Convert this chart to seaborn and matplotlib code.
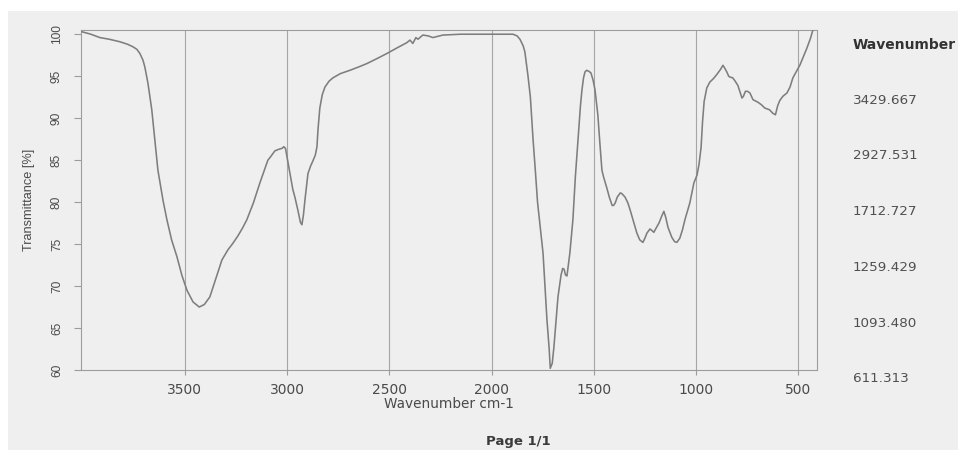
import matplotlib
matplotlib.use("Agg")
import matplotlib.pyplot as plt
from matplotlib.patches import Rectangle
import seaborn as sns
import pandas as pd

# IR spectrum: wavenumber (cm-1) vs transmittance (%)
wavenumber = [
    4005, 3960, 3916, 3870, 3818, 3780, 3754, 3735, 3720, 3705, 3696, 3681,
    3662, 3647, 3632, 3607, 3588, 3565, 3539, 3515, 3490, 3460, 3429.667,
    3405, 3378, 3350, 3319, 3290, 3265, 3240, 3216, 3197, 3165, 3133, 3094,
    3084, 3060, 3040, 3025, 3016, 3008, 2998, 2986, 2972, 2962, 2947, 2935,
    2927.531, 2920, 2913, 2898, 2885, 2874, 2862, 2854, 2849, 2840, 2828,
    2815, 2795, 2776, 2740, 2693, 2650, 2610, 2560, 2512, 2460, 2414, 2399,
    2385, 2370, 2360, 2336, 2310, 2287, 2238, 2150, 2050, 1950, 1895, 1875,
    1861, 1845, 1837, 1822, 1810, 1797, 1785, 1775, 1763, 1748, 1729, 1718,
    1712.727, 1703, 1695, 1675, 1660, 1652, 1645, 1638, 1631, 1617, 1602,
    1590, 1577, 1565, 1558, 1550, 1543, 1535, 1525, 1514, 1504, 1494, 1480,
    1470, 1460, 1452, 1445, 1435, 1424, 1410, 1403, 1395, 1385, 1370, 1362,
    1347, 1333, 1320, 1308, 1289, 1275, 1259.429, 1248, 1240, 1225, 1215,
    1206, 1195, 1181, 1168, 1157, 1148, 1137, 1118, 1105, 1093.480, 1079,
    1066, 1054, 1030, 1010, 995, 985, 975, 968, 960, 947, 932, 915, 898,
    880, 868, 858, 849, 840, 834, 820, 808, 795, 783, 775, 768, 758, 748,
    736, 721, 697, 680, 663, 640, 625, 611.313, 600, 590, 575, 555, 540,
    526, 510, 492, 475, 458, 440, 428, 415,
]
transmittance = [
    100.3, 100.0, 99.6, 99.4, 99.1, 98.8, 98.5, 98.2, 97.7, 96.9, 96.1, 94.2,
    91.0, 87.4, 83.8, 80.2, 77.9, 75.5, 73.5, 71.3, 69.5, 68.1, 67.5,
    67.8, 68.7, 70.8, 73.1, 74.3, 75.1, 76.0, 77.0, 77.9, 79.9, 82.3, 85.0,
    85.3, 86.1, 86.3, 86.4, 86.6, 86.4, 85.0, 83.4, 81.5, 80.6, 79.0, 77.6,
    77.3, 78.5, 80.2, 83.4, 84.3, 84.9, 85.6, 86.6, 88.6, 91.2, 92.8,
    93.7, 94.4, 94.8, 95.3, 95.7, 96.1, 96.5, 97.1, 97.7, 98.4, 99.0, 99.3,
    98.9, 99.6, 99.4, 99.9, 99.8, 99.6, 99.9, 100.0, 100.0, 100.0, 100.0, 99.8,
    99.4, 98.6, 97.9, 95.1, 92.5, 87.5, 83.5, 80.0, 77.3, 73.9, 66.0, 62.5,
    60.2, 60.8, 62.7, 68.7, 71.3, 72.1, 72.0, 71.3, 71.2, 73.9, 77.9,
    83.0, 87.5, 91.5, 93.3, 94.8, 95.5, 95.7, 95.6, 95.4, 94.6, 93.4, 90.4,
    87.0, 83.8, 83.0, 82.4, 81.6, 80.6, 79.6, 79.6, 79.9, 80.6, 81.1, 81.0,
    80.6, 79.9, 78.9, 77.9, 76.3, 75.5, 75.2, 75.8, 76.3, 76.8, 76.6,
    76.4, 76.9, 77.5, 78.3, 78.9, 78.2, 77.0, 75.8, 75.3, 75.2, 75.7,
    76.7, 77.9, 79.9, 82.3, 83.2, 84.5, 86.5, 89.5, 92.0, 93.6, 94.3, 94.7, 95.2,
    95.8, 96.3, 95.9, 95.5, 95.0, 94.9, 94.8, 94.4, 93.9, 93.0, 92.4, 92.6, 93.2, 93.2,
    93.0, 92.2, 91.9, 91.6, 91.2, 91.0, 90.6, 90.4, 91.5, 92.1, 92.6, 93.0, 93.7,
    94.8, 95.5, 96.3, 97.3, 98.3, 99.5, 100.5, 101.2,
]

# Annotated band positions listed beside the plot
peak_labels = ["3429.667", "2927.531", "1712.727", "1259.429", "1093.480", "611.313"]

x_ticks = [3500, 3000, 2500, 2000, 1500, 1000, 500]
y_ticks = [60, 65, 70, 75, 80, 85, 90, 95, 100]

sns.set_theme(style="ticks")
plt.rcParams["font.family"] = ["DejaVu Sans"]

paper = "#efefef"
ink = "#4a4a4a"
frame = "#9c9c9c"
narrow = ["Liberation Sans Narrow", "Liberation Sans"]

fig = plt.figure(figsize=(9.58, 4.5), dpi=100, facecolor=paper)
ax = fig.add_axes([0.0846, 0.1778, 0.7682, 0.7555])
ax.set_facecolor(paper)

# page margins
fig.patches.append(Rectangle((0, 1 - 11 / 450), 1, 11 / 450, transform=fig.transFigure,
                             facecolor="white", edgecolor="none", zorder=-1))
fig.patches.append(Rectangle((0, 0), 8 / 958, 1, transform=fig.transFigure,
                             facecolor="white", edgecolor="none", zorder=-1))

df = pd.DataFrame({"Wavenumber": wavenumber, "Transmittance": transmittance})
for xv in x_ticks:
    ax.axvline(xv, color="#a6a6a6", linewidth=0.8, zorder=1)

sns.lineplot(data=df, x="Wavenumber", y="Transmittance", ax=ax,
             color="#7e7e7e", linewidth=1.15, zorder=3)

ax.set_xlim(4008, 408)
ax.set_ylim(60, 100.5)
ax.set_xticks(x_ticks)
ax.set_yticks(y_ticks)
ax.set_xticklabels([str(v) for v in x_ticks], fontsize=10, color=ink)
ax.set_yticklabels([str(v) for v in y_ticks], rotation=90, va="center",
                   fontsize=8.6, color=ink, family=narrow)
ax.tick_params(axis="x", length=3.5, width=0.8, color=frame, pad=6)
ax.tick_params(axis="y", length=5, width=0.8, color=frame, pad=8)

for side in ["left", "right", "top", "bottom"]:
    ax.spines[side].set_visible(True)
    ax.spines[side].set_color(frame)
    ax.spines[side].set_linewidth(0.8)

ax.set_xlabel("Wavenumber cm-1", fontsize=9.8, color=ink)
ax.xaxis.set_label_coords(0.5, -0.079)
ax.set_ylabel("Transmittance [%]", fontsize=9.2, color=ink, va="center",
              family=narrow)
ax.yaxis.set_label_coords(-0.0707, 0.5)

# band list on the right
fig.text(853 / 958, 1 - 45 / 450, "Wavenumber", fontsize=10, fontweight="bold",
         color="#333333", ha="left", va="center")
for i, lab in enumerate(peak_labels):
    fig.text(853 / 958, 1 - (100 + 55.8 * i) / 450, lab, fontsize=9.7,
             color="#505050", ha="left", va="center")

fig.text(518 / 958, 1 - 441 / 450, "Page 1/1", fontsize=9.5, fontweight="bold",
         color="#3a3a3a", ha="center", va="center")

fig.savefig("out.png", dpi=100, facecolor=paper)
